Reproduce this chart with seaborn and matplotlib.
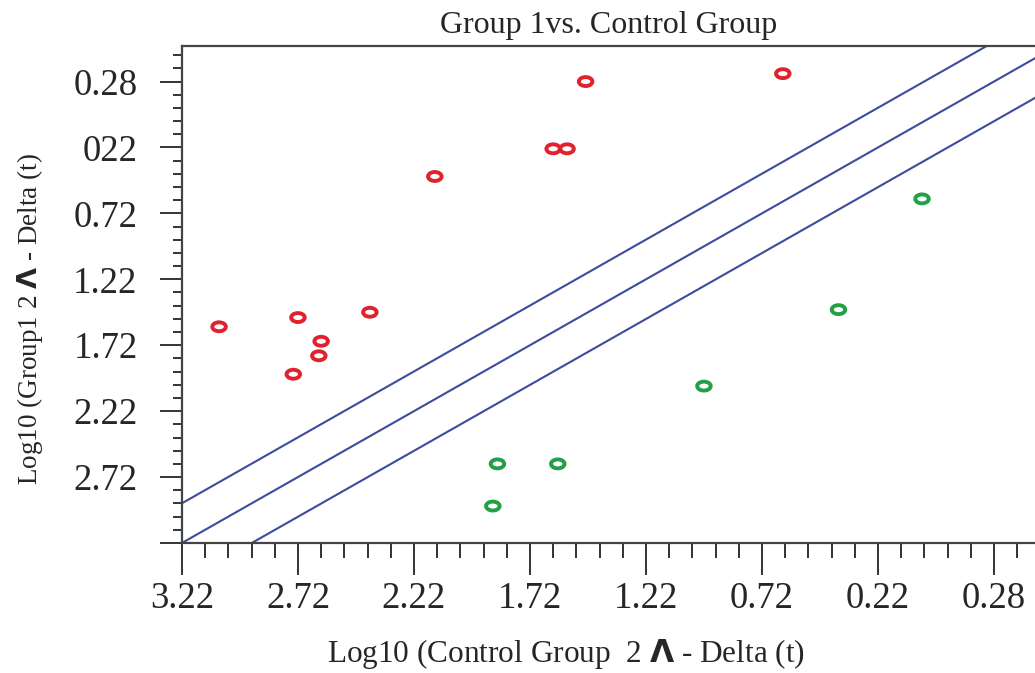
import numpy as np
import pandas as pd
import matplotlib
matplotlib.use("Agg")
import matplotlib.pyplot as plt
from matplotlib.path import Path
from matplotlib.transforms import Affine2D
from matplotlib.ticker import FixedLocator
import seaborn as sns

# Log10 2^-Delta(t) values per gene
up_x = [-3.06, -2.72, -2.62, -2.63, -2.74, -2.41, -2.13, -1.62, -1.56, -1.48, -0.63]
up_y = [-1.58, -1.51, -1.69, -1.80, -1.94, -1.47, -0.44, -0.23, -0.23, 0.28, 0.34]
down_x = [-0.03, -0.39, -0.97, -1.60, -1.86, -1.88]
down_y = [-0.61, -1.45, -2.03, -2.62, -2.62, -2.94]

# fold-change boundaries (log10 of 2) around the identity line
boundary_offsets = [np.log10(2), 0.0, -np.log10(2)]

x_ticks = [-3.22, -2.72, -2.22, -1.72, -1.22, -0.72, -0.22, 0.28]
x_labels = ["3.22", "2.72", "2.22", "1.72", "1.22", "0.72", "0.22", "0.28"]
y_ticks = [0.28, -0.22, -0.72, -1.22, -1.72, -2.22, -2.72, -3.22]
y_labels = ["0.28", "022", "0.72", "1.22", "1.72", "2.22", "2.72", ""]

sns.set_theme(style="white")
plt.rcParams["font.family"] = ["Liberation Serif", "DejaVu Serif"]
plt.rcParams["mathtext.fontset"] = "dejavusans"

df = pd.DataFrame({
    "control": up_x + down_x,
    "group1": up_y + down_y,
    "regulation": ["up"] * len(up_x) + ["down"] * len(down_x),
})
colors = {"up": "#e0222c", "down": "#22a046"}

ellipse = Path.unit_circle().transformed(Affine2D().scale(1.0, 0.66))

fig = plt.figure(figsize=(10.35, 6.73), dpi=100)
ax = fig.add_axes([0.1758, 0.1932, 0.8242, 0.7385])

for off in boundary_offsets:
    ax.axline((0.0, off), slope=1.0, color="#3d4b9b", lw=1.5, zorder=1)

sns.scatterplot(
    data=df, x="control", y="group1", hue="regulation",
    palette=colors, marker=ellipse, s=95, linewidth=2.8,
    legend=False, ax=ax, zorder=3,
)
for coll in ax.collections:
    coll.set_facecolor("none")
    coll.set_edgecolor([colors[r] for r in df["regulation"]])

ax.set_xlim(-3.22, 0.457)
ax.set_ylim(-3.22, 0.55)

ax.set_xticks(x_ticks)
ax.set_xticklabels(x_labels)
ax.set_yticks(y_ticks)
ax.set_yticklabels(y_labels)
ax.xaxis.set_minor_locator(FixedLocator(np.arange(-3.22, 0.46, 0.1)))
ax.yaxis.set_minor_locator(FixedLocator(np.arange(-3.22, 0.56, 0.1)))

ax.tick_params(axis="x", which="major", length=23, width=1.4, color="#333333",
               direction="out", labelsize=26.5, pad=5, bottom=True)
ax.tick_params(axis="x", which="minor", length=11, width=1.4, color="#333333",
               direction="out", bottom=True)
ax.tick_params(axis="y", which="major", length=16, width=1.4, color="#333333",
               direction="out", labelsize=26.5, pad=16, left=True)
ax.tick_params(axis="y", which="minor", length=6.5, width=1.4, color="#333333",
               direction="out", left=True)

for side in ["left", "bottom", "top"]:
    ax.spines[side].set_visible(True)
    ax.spines[side].set_color("#444444")
    ax.spines[side].set_linewidth(1.6)
ax.spines["right"].set_visible(False)

ax.set_title("Group 1vs. Control Group", fontsize=23, pad=9)
ax.set_xlabel(r"Log10 (Control Group  2 $\mathbf{\Lambda}$ - Delta (t)", fontsize=22.5)
ax.set_ylabel(r"Log10 (Group1 2 $\mathbf{\Lambda}$ - Delta (t)", fontsize=19.5)
ax.xaxis.set_label_coords(0.45, -0.19)
ax.yaxis.set_label_coords(-0.16, 0.45)

fig.savefig("out.png", dpi=100, facecolor="white")
